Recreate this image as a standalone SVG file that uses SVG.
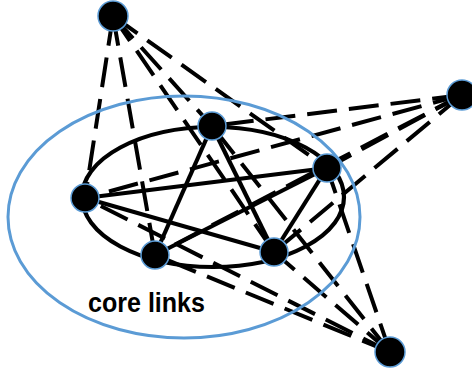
<svg xmlns="http://www.w3.org/2000/svg" width="472" height="370" viewBox="0 0 472 370">
  <style>
    .dash { stroke: #000; stroke-width: 4; stroke-dasharray: 30 12; fill: none; }
    .solid { stroke: #000; stroke-width: 4.2; fill: none; }
    .node { fill: #000; stroke: #5b9bd5; stroke-width: 1.5; }
    .label { font-family: "Liberation Sans", Arial, sans-serif; font-weight: bold; font-size: 28px; fill: #000; }
  </style>
  <rect width="472" height="370" fill="#fff"/>
  <g id="connectors">
    <line class="dash" x1="113" y1="16" x2="212" y2="126"/>
    <line class="dash" x1="113" y1="16" x2="327" y2="168"/>
    <line class="dash" x1="113" y1="16" x2="85" y2="198"/>
    <line class="dash" x1="113" y1="16" x2="155" y2="255"/>
    <line class="dash" x1="113" y1="16" x2="274" y2="252"/>
    <line class="dash" x1="462" y1="95" x2="212" y2="126"/>
    <line class="dash" x1="462" y1="95" x2="327" y2="168"/>
    <line class="dash" x1="462" y1="95" x2="85" y2="198"/>
    <line class="dash" x1="462" y1="95" x2="155" y2="255"/>
    <line class="dash" x1="462" y1="95" x2="274" y2="252"/>
    <line class="dash" x1="390" y1="352" x2="212" y2="126"/>
    <line class="dash" x1="390" y1="352" x2="327" y2="168"/>
    <line class="dash" x1="390" y1="352" x2="85" y2="198"/>
    <line class="dash" x1="390" y1="352" x2="155" y2="255"/>
    <line class="dash" x1="390" y1="352" x2="274" y2="252"/>
    <line class="solid" x1="212" y1="126" x2="155" y2="255"/>
    <line class="solid" x1="212" y1="126" x2="274" y2="252"/>
    <line class="solid" x1="85" y1="198" x2="327" y2="168"/>
    <line class="solid" x1="85" y1="198" x2="274" y2="252"/>
    <line class="solid" x1="155" y1="255" x2="327" y2="168"/>
    <line class="solid" x1="327" y1="168" x2="274" y2="252"/>
    <ellipse class="solid" cx="213" cy="197" rx="131" ry="70"/>
  </g>
  <ellipse id="core-region" cx="184" cy="217" rx="176" ry="121" fill="none" stroke="#5b9bd5" stroke-width="3"/>
  <g id="nodeA"><circle class="node" cx="113" cy="16" r="15"/></g>
  <g id="nodeB"><circle class="node" cx="462" cy="95" r="15"/></g>
  <g id="nodeC"><circle class="node" cx="390" cy="352" r="15"/></g>
  <g id="core1"><circle class="node" cx="212" cy="126" r="14"/></g>
  <g id="core2"><circle class="node" cx="327" cy="168" r="14"/></g>
  <g id="core3"><circle class="node" cx="85" cy="198" r="14"/></g>
  <g id="core4"><circle class="node" cx="155" cy="255" r="14"/></g>
  <g id="core5"><circle class="node" cx="274" cy="252" r="14"/></g>
  <g id="label"><text class="label" x="88" y="312" textLength="117" lengthAdjust="spacingAndGlyphs">core links</text></g>
</svg>
